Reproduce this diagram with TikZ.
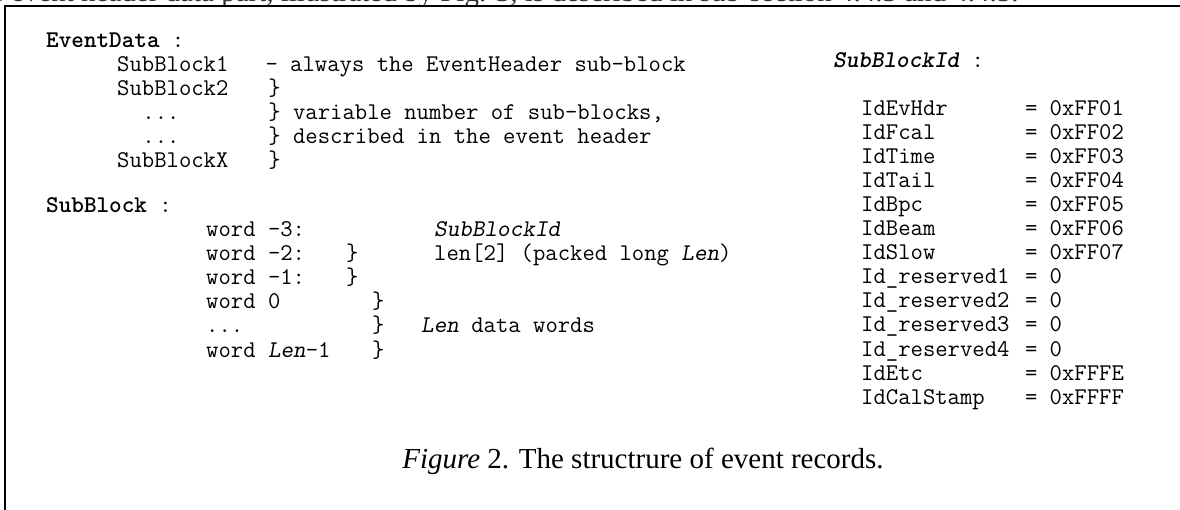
\documentclass[tikz,border=0pt]{standalone}
\usepackage{fontspec}
\setmainfont{Liberation Serif}
\newcommand\mbold[1]{{\fontseries{b}\selectfont #1}}
\newcommand\mslant[1]{{\fontshape{sl}\selectfont #1}}
\newcommand\mboldslant[1]{{\fontseries{b}\fontshape{sl}\selectfont #1}}
\begin{document}
\begin{tikzpicture}[x=1pt,y=-1pt,
  mono/.style={font=\fontsize{24}{24}\ttfamily\selectfont, inner sep=0pt, anchor=base west},
  capt/.style={font=\fontsize{29}{32}\selectfont, inner sep=0pt, anchor=base},
  frameline/.style={line width=2.4pt, line cap=rect}]
\useasboundingbox (0,0) rectangle (1180,510);
% clipped line of the preceding text
\begin{scope}
\clip (0,0) rectangle (1180,6);
\node[capt, anchor=base west, text=black!80] (prevtext) at (221,1.5) {\llap{the event header data }part, illustrated by Fig. 3, is described in sub-section 4.4.3 and 4.4.5.};
\end{scope}
% frame
\draw[frameline] (1185,6) -- (5,6) -- (5,515);
% EventData block
\node[mono] (evd) at (46,48) {\mbold{EventData} :};
\node[mono] (sb1) at (117,72) {SubBlock1\ \ \ - always the EventHeader sub-block};
\node[mono] (sb2) at (117,96) {SubBlock2};
\node[mono] (dots1) at (142.2,120) {...};
\node[mono] (dots2) at (142.2,144) {...};
\node[mono] (sbx) at (117,168) {SubBlockX};
\node[mono] (br1) at (268.2,96) {\}};
\node[mono] (br2) at (268.2,120) {\} variable number of sub-blocks,};
\node[mono] (br3) at (268.2,144) {\} described in the event header};
\node[mono] (br4) at (268.2,168) {\}};
% SubBlock block
\node[mono] (sbk) at (46,213) {\mbold{SubBlock} :};
\node[mono] (w3) at (206,237) {word -3:};
\node[mono] (w2) at (206,261) {word -2:};
\node[mono] (w1) at (206,285) {word -1:};
\node[mono] (w0) at (206,309) {word 0};
\node[mono] (wd) at (206,333) {...};
\node[mono] (wl) at (206,357) {word \mslant{Len}-1};
\node[mono] (bw2) at (346,261) {\}};
\node[mono] (bw1) at (346,285) {\}};
\node[mono] (bw0) at (372,309) {\}};
\node[mono] (bwd) at (372,333) {\}};
\node[mono] (bwl) at (372,357) {\}};
\node[mono] (sid) at (434,237) {\mslant{SubBlockId}};
\node[mono] (len2) at (434,261) {len[2] (packed long \mslant{Len})};
\node[mono] (lendw) at (421,333) {\mslant{Len} data words};
% SubBlockId list
\node[mono] (sidh) at (833,68) {\mboldslant{SubBlockId} :};
\foreach \nm/\vl [count=\i from 0] in {IdEvHdr/0xFF01, IdFcal/0xFF02, IdTime/0xFF03, IdTail/0xFF04, IdBpc/0xFF05, IdBeam/0xFF06, IdSlow/0xFF07, Id\_reserved1/0, Id\_reserved2/0, Id\_reserved3/0, Id\_reserved4/0, IdEtc/0xFFFE, IdCalStamp/0xFFFF}{
  \node[mono] (id\i) at (861,116+24*\i) {\nm};
  \node[mono] (val\i) at (1024.8,116+24*\i) {=\ \vl};
}
% caption
\node[capt] (cap) at (643,468) {\textit{Figure} 2. The structrure of event records.};
\end{tikzpicture}
\end{document}
